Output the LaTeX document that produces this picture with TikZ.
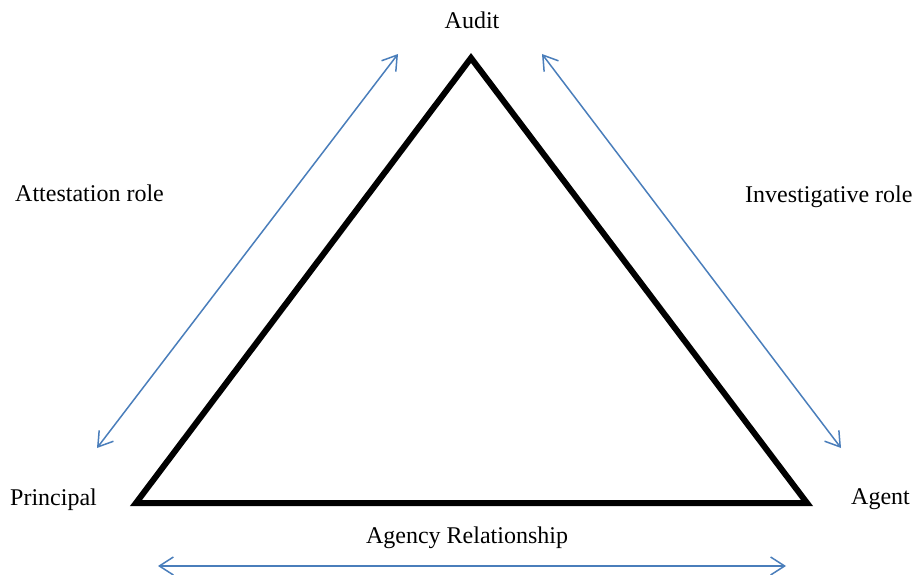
\documentclass[tikz,border=0pt]{standalone}
\usepackage{fontspec}
\setmainfont{Liberation Serif}
\usetikzlibrary{arrows.meta}
\definecolor{arrowblue}{HTML}{4A7EBB}
\begin{document}
\begin{tikzpicture}[x=1pt,y=-1pt,
  lbl/.style={font=\fontsize{24}{28}\selectfont, inner sep=0pt},
  tri/.style={draw=black, line width=6pt, miter limit=10, line join=miter},
  rel/.style={draw=arrowblue, line width=1.5pt, {Straight Barb[length=14pt,width=18pt]}-{Straight Barb[length=14pt,width=18pt]}}]
\useasboundingbox (0,0) rectangle (912,575);
% triangle vertices
\coordinate (T) at (471,58);
\coordinate (L) at (136,503);
\coordinate (R) at (807,503);
\draw[tri] (T) -- (L) -- (R) -- cycle;
% labels
\node[lbl, anchor=base] (audit) at (472,29) {Audit};
\node[lbl, anchor=base west] (attest) at (15,201) {Attestation role};
\node[lbl, anchor=base west] (invest) at (745,202) {Investigative role};
\node[lbl, anchor=base west] (principal) at (10,505) {Principal};
\node[lbl, anchor=base west] (agent) at (851,504) {Agent};
\node[lbl, anchor=base] (agency) at (467,543) {Agency Relationship};
% arrow endpoints
\coordinate (a1) at (97,448);
\coordinate (a2) at (398,54);
\coordinate (b1) at (542,54);
\coordinate (b2) at (841,448);
\coordinate (c1) at (158,566);
\coordinate (c2) at (786,566);
\draw[rel] (a1) -- (a2);
\draw[rel] (b1) -- (b2);
\draw[rel] (c1) -- (c2);
\end{tikzpicture}
\end{document}
